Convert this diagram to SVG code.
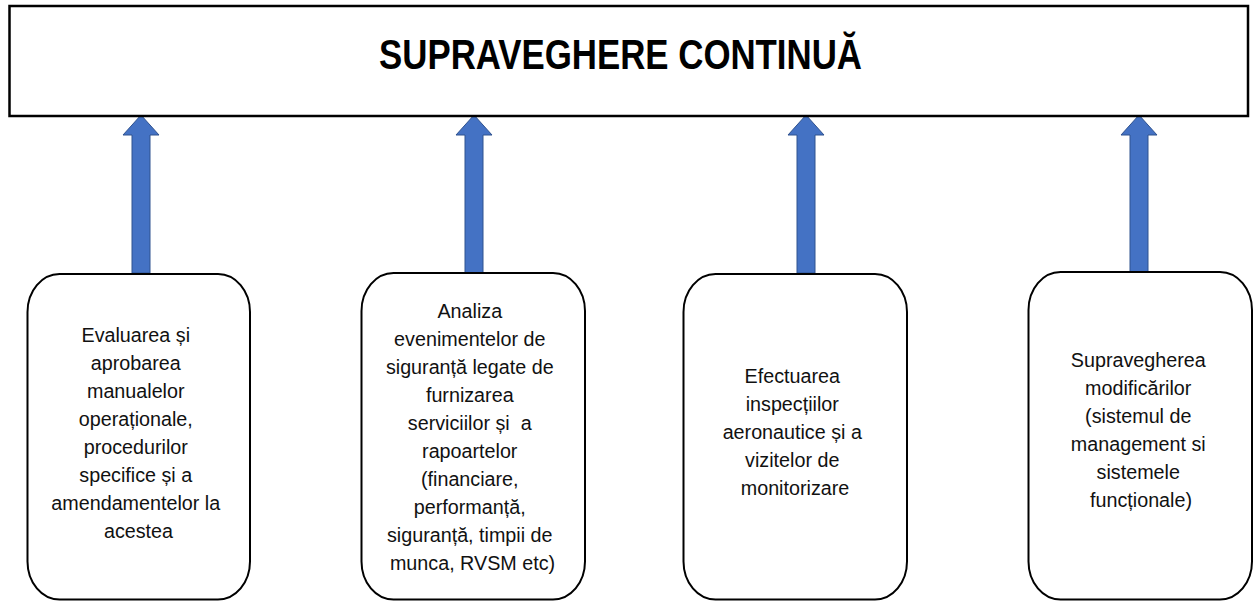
<svg xmlns="http://www.w3.org/2000/svg" width="1256" height="602" viewBox="0 0 1256 602">
<style>
.frame{fill:#fff;stroke:#000;stroke-width:2.5}
.box{fill:#fff;stroke:#000;stroke-width:2}
.arrow{fill:#4472C4;stroke:#2F528F;stroke-width:1}
.title{font-family:"Liberation Sans",Arial,sans-serif;font-weight:bold;font-size:43px;fill:#000;text-anchor:middle}
.lbl{font-family:"Liberation Sans",Arial,sans-serif;font-size:21px;fill:#111;text-anchor:middle}
</style>
<rect width="1256" height="602" fill="#fff"/>
<g id="connectors">
<path class="arrow" d="M141 115 L159 135 L150 135 L150 273 L132 273 L132 135 L123 135 Z"/>
<path class="arrow" d="M474 115 L492 135 L483 135 L483 273 L465 273 L465 135 L456 135 Z"/>
<path class="arrow" d="M806 115 L824 135 L815 135 L815 273 L797 273 L797 135 L788 135 Z"/>
<path class="arrow" d="M1139 115 L1157 135 L1148 135 L1148 273 L1130 273 L1130 135 L1121 135 Z"/>
</g>
<g id="title-node">
<rect class="frame" x="9.5" y="6" width="1238.5" height="110"/>
<text class="title" transform="translate(620.5 69) scale(0.81 1)" x="0" y="0">SUPRAVEGHERE CONTINUĂ</text>
</g>
<g id="node1">
<rect class="box" x="27.5" y="274" width="222.5" height="325.5" rx="32" ry="38"/>
<text class="lbl" transform="translate(138.5 0) scale(0.94 1)">
<tspan x="0" y="342">Evaluarea și</tspan>
<tspan x="0" y="370">aprobarea</tspan>
<tspan x="0" y="398">manualelor</tspan>
<tspan x="0" y="426">operaționale,</tspan>
<tspan x="0" y="454">procedurilor</tspan>
<tspan x="0" y="482">specifice și a</tspan>
<tspan x="0" y="510">amendamentelor la</tspan>
<tspan x="0" y="538">acestea</tspan>
</text>
</g>
<g id="node2">
<rect class="box" x="361.5" y="273" width="223.5" height="326.5" rx="32" ry="38"/>
<text class="lbl" transform="translate(472.5 0) scale(0.94 1)">
<tspan x="0" y="318">Analiza</tspan>
<tspan x="0" y="346">evenimentelor de</tspan>
<tspan x="0" y="374">siguranță legate de</tspan>
<tspan x="0" y="402">furnizarea</tspan>
<tspan x="0" y="430" xml:space="preserve">serviciilor și  a</tspan>
<tspan x="0" y="458">rapoartelor</tspan>
<tspan x="0" y="486">(financiare,</tspan>
<tspan x="0" y="514">performanță,</tspan>
<tspan x="0" y="542">siguranță, timpii de</tspan>
<tspan x="0" y="570">munca, RVSM etc)</tspan>
</text>
</g>
<g id="node3">
<rect class="box" x="683.5" y="274" width="223.5" height="325.5" rx="32" ry="38"/>
<text class="lbl" transform="translate(795 0) scale(0.94 1)">
<tspan x="0" y="383">Efectuarea</tspan>
<tspan x="0" y="411">inspecțiilor</tspan>
<tspan x="0" y="439">aeronautice și a</tspan>
<tspan x="0" y="467">vizitelor de</tspan>
<tspan x="0" y="495">monitorizare</tspan>
</text>
</g>
<g id="node4">
<rect class="box" x="1028.5" y="272" width="223.5" height="327.5" rx="32" ry="38"/>
<text class="lbl" transform="translate(1141 0) scale(0.94 1)">
<tspan x="0" y="367">Supravegherea</tspan>
<tspan x="0" y="395">modificărilor</tspan>
<tspan x="0" y="423">(sistemul de</tspan>
<tspan x="0" y="451">management si</tspan>
<tspan x="0" y="479">sistemele</tspan>
<tspan x="0" y="507">funcționale)</tspan>
</text>
</g>
</svg>
